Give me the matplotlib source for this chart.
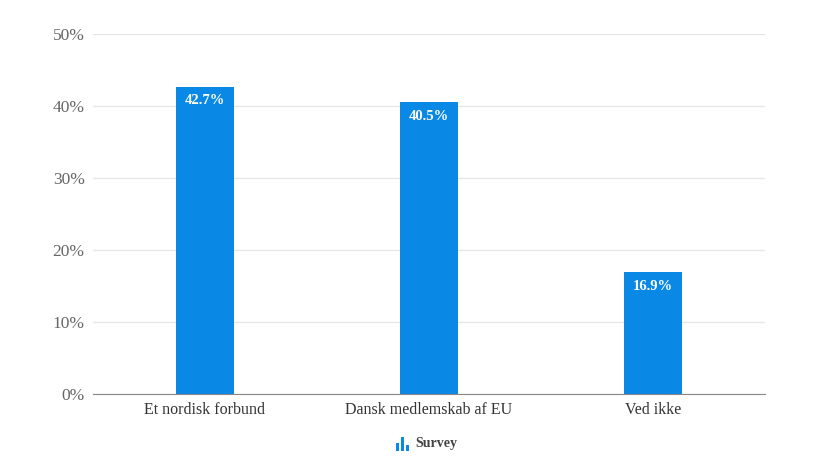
import numpy as np
import matplotlib.pyplot as plt
from matplotlib.patches import Rectangle

categories = ['Et nordisk forbund', 'Dansk medlemskab af EU', 'Ved ikke']
values = [42.7, 40.5, 16.9]
yticks = [0, 10, 20, 30, 40, 50]
series_name = 'Survey'

blue = '#0a88e6'
plt.rcParams['font.family'] = ['Liberation Serif', 'DejaVu Serif']

fig = plt.figure(figsize=(8.31, 4.66), dpi=100)
ax = fig.add_axes([0.1119, 0.1545, 0.8087, 0.7725])

x = np.arange(len(categories))
bars = ax.bar(x, values, width=0.26, color=blue, zorder=3)
for b, v in zip(bars, values):
    ax.text(b.get_x() + b.get_width()/2, v - 1.0, f'{v:.1f}%',
            ha='center', va='top', color='white', weight='bold', fontsize=10.5, zorder=4)

ax.set_xlim(-0.5, len(categories) - 0.5)
ax.set_ylim(0, 50)
ax.set_yticks(yticks)
ax.set_yticklabels([f'{t}%' for t in yticks])
ax.set_xticks(x)
ax.set_xticklabels(categories)
ax.grid(axis='y', color='#e6e6e6', lw=1, zorder=0)
for s in ['top', 'right', 'left']:
    ax.spines[s].set_visible(False)
ax.spines['bottom'].set_color('#888888')
ax.spines['bottom'].set_zorder(5)
ax.tick_params(axis='y', length=0, pad=6, labelsize=12.5, labelcolor='#666666')
ax.tick_params(axis='x', length=0, pad=6, labelsize=11.5, labelcolor='#333333')

# legend: small bar-chart icon plus series name
W, H = 831, 466
for i, h in enumerate([8, 14, 6]):
    fig.patches.append(Rectangle(((396 + i*5) / W, (H - 451) / H), 3 / W, h / H,
                                 transform=fig.transFigure, facecolor=blue, lw=0))
fig.text(415 / W, (H - 444) / H, series_name, ha='left', va='center',
         fontsize=10, weight='bold', color='#444444')

fig.savefig('out.png', dpi=100)
